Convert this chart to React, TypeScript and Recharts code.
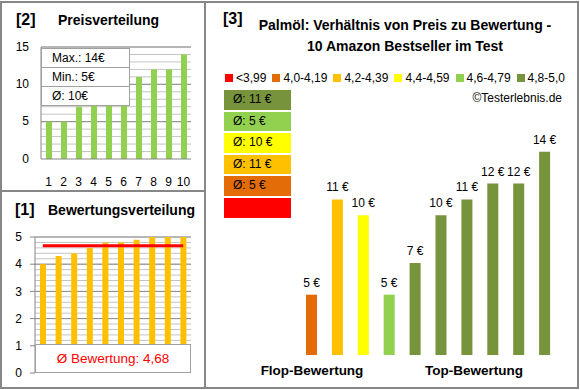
import React from "react";
import {
  ComposedChart,
  BarChart,
  Bar,
  Line,
  XAxis,
  YAxis,
  CartesianGrid,
  Cell,
  LabelList,
} from "recharts";

const FONT = '"Liberation Sans", Arial, sans-serif';
const FRAME = "#878787";
const GRID_MAJOR = "#8c8c8c";
const GRID_MINOR = "#c4c4c4";

// [2] Preisverteilung: prices sorted ascending
const ranks = ["1", "2", "3", "4", "5", "6", "7", "8", "9", "10"];
const pricesAsc = [5, 5, 7, 10, 10, 11, 11, 12, 12, 14];
const priceTicks = [0, 5, 10, 15];

// [1] Bewertungsverteilung: ratings sorted ascending
const ratingsAsc = [4.0, 4.3, 4.4, 4.6, 4.8, 4.8, 4.9, 5.0, 5.0, 5.0];
const ratingTicks = [0, 1, 2, 3, 4, 5];

// [3] price of each product, ordered from flop to top rating
const pricesByRating = [5, 11, 10, 5, 7, 10, 11, 12, 12, 14];

const bandLabels = ["<3,99", "4,0-4,19", "4,2-4,39", "4,4-4,59", "4,6-4,79", "4,8-5,0"];
const bandLimits = [4.0, 4.2, 4.4, 4.6, 4.8]; // lower bounds of bands 1..5
const bandColors = ["#FF0000", "#E36C09", "#FFC000", "#FFFF00", "#92D050", "#77933C"];
const groupLabels = ["Flop-Bewertung", "Top-Bewertung"];

const bandOf = (r: number) => bandLimits.filter((l) => r >= l - 1e-9).length;

const priceData = ranks.map((rank, i) => ({ rank, price: pricesAsc[i] }));
const ratingMean = ratingsAsc.reduce((a, b) => a + b, 0) / ratingsAsc.length;
const ratingData = ranks.map((rank, i) => ({ rank, rating: ratingsAsc[i], avg: ratingMean }));
const ratioData = ranks.map((rank, i) => ({
  rank,
  price: pricesByRating[i],
  band: bandOf(ratingsAsc[i]),
}));

const priceSummary = [
  `Max.: ${Math.max(...pricesAsc)}€`,
  `Min.: ${Math.min(...pricesAsc)}€`,
  `Ø: ${Math.round(pricesAsc.reduce((a, b) => a + b, 0) / pricesAsc.length)}€`,
];

const bandAverages = bandColors.map((_, b) => {
  const p = ratioData.filter((d) => d.band === b).map((d) => d.price);
  return p.length ? `Ø: ${Math.round(p.reduce((a, c) => a + c, 0) / p.length)} €` : "";
});

const priceGridMinor = Array.from({ length: 15 }, (_, i) => i + 1);
const ratingGridMinor = Array.from({ length: 25 }, (_, i) => +(0.2 * (i + 1)).toFixed(1));

// plot box of the price chart (panel [2])
const PRICE_TOP = 47;
const PRICE_H = 112;
const PRICE_MAX = 15;

const gridGen =
  (values: number[], domain: [number, number]) =>
  ({ yAxis, offset }: any) =>
    values.map((v) =>
      yAxis && typeof yAxis.scale === "function"
        ? yAxis.scale(v)
        : offset.top + (offset.height * (domain[1] - v)) / (domain[1] - domain[0])
    );

type TxtProps = {
  x: number;
  y: number;
  size?: number;
  bold?: boolean;
  color?: string;
  align?: "left" | "center" | "right";
  children: React.ReactNode;
};

function Txt({ x, y, size = 12, bold = false, color = "#000", align = "left", children }: TxtProps) {
  const lh = Math.round(size * 1.4);
  const style: React.CSSProperties = {
    position: "absolute",
    top: y - lh / 2,
    lineHeight: `${lh}px`,
    fontSize: size,
    fontWeight: bold ? 700 : 400,
    color,
    whiteSpace: "nowrap",
    fontFamily: FONT,
    zIndex: 5,
  };
  if (align === "left") style.left = x;
  if (align === "center") {
    style.left = x;
    style.transform = "translateX(-50%)";
  }
  if (align === "right") style.right = 580 - x;
  return <div style={style}>{children}</div>;
}

const tickStyle = { fontSize: 12, fill: "#000", fontFamily: FONT };

// price label above each bar in [3]
const PriceLabel = (props: any) => {
  const { x, y, width, value } = props;
  return (
    <text
      x={Number(x) + Number(width) / 2}
      y={Number(y) - 8}
      textAnchor="middle"
      fontSize={12}
      fontFamily={FONT}
      fill="#000"
    >
      {`${value} €`}
    </text>
  );
};

export default function App() {
  return (
    <div
      style={{
        position: "absolute",
        left: 0,
        top: 0,
        width: 580,
        height: 390,
        background: "#fff",
        fontFamily: FONT,
        overflow: "hidden",
      }}
    >
      {/* frame */}
      <div
        style={{
          position: "absolute",
          left: 0,
          top: 1,
          width: 579,
          height: 388,
          border: `2px solid ${FRAME}`,
          boxSizing: "border-box",
        }}
      />
      <div style={{ position: "absolute", left: 204, top: 1, width: 2, height: 388, background: FRAME }} />
      <div style={{ position: "absolute", left: 0, top: 190, width: 205, height: 2, background: FRAME }} />

      {/* [2] Preisverteilung */}
      <div style={{ position: "absolute", left: 0, top: 0 }}>
        <ComposedChart
          width={200}
          height={190}
          data={priceData}
          margin={{ top: PRICE_TOP, right: 9, bottom: 1, left: 0 }}
        >
          <CartesianGrid
            vertical={false}
            stroke={GRID_MINOR}
            horizontalCoordinatesGenerator={gridGen(priceGridMinor, [0, PRICE_MAX])}
          />
          <CartesianGrid
            vertical={false}
            stroke={GRID_MAJOR}
            horizontalCoordinatesGenerator={gridGen(priceGridMinor.filter((v) => v % 5 === 0), [0, PRICE_MAX])}
          />
          <XAxis
            dataKey="rank"
            height={30}
            axisLine={{ stroke: FRAME }}
            tickLine={false}
            tickMargin={12}
            tick={tickStyle}
            interval={0}
          />
          <YAxis
            width={41}
            domain={[0, PRICE_MAX]}
            ticks={priceTicks}
            axisLine={{ stroke: FRAME }}
            tickLine={false}
            tick={false}
          />
          <Bar dataKey="price" fill="#92D050" barSize={6} isAnimationActive={false} />
        </ComposedChart>
      </div>
      {priceTicks.map((v) => (
        <Txt key={v} x={29} y={PRICE_TOP + (PRICE_H * (PRICE_MAX - v)) / PRICE_MAX} align="right">
          {v}
        </Txt>
      ))}
      <Txt x={16} y={20} size={16} bold>[2]</Txt>
      <Txt x={58} y={20} size={14} bold>Preisverteilung</Txt>
      <div
        style={{
          position: "absolute",
          left: 41,
          top: 48,
          width: 89,
          background: "#fff",
          border: "1px solid #a0a0a0",
          boxSizing: "border-box",
        }}
      >
        {priceSummary.map((t, i) => (
          <div
            key={t}
            style={{
              height: 18,
              lineHeight: "18px",
              paddingLeft: 10,
              fontSize: 12,
              borderTop: i ? "1px solid #a0a0a0" : "none",
            }}
          >
            {t}
          </div>
        ))}
      </div>

      {/* [1] Bewertungsverteilung */}
      <Txt x={15} y={210} size={16} bold>[1]</Txt>
      <Txt x={48} y={210} size={14} bold>Bewertungsverteilung</Txt>
      <div style={{ position: "absolute", left: 0, top: 190 }}>
        <ComposedChart width={200} height={200} data={ratingData} margin={{ top: 47, right: 9, bottom: 17, left: 0 }}>
          <CartesianGrid
            vertical={false}
            stroke={GRID_MINOR}
            horizontalCoordinatesGenerator={gridGen(ratingGridMinor, [0, 5])}
          />
          <CartesianGrid
            vertical={false}
            stroke={GRID_MAJOR}
            horizontalCoordinatesGenerator={gridGen(ratingGridMinor.filter((v) => Number.isInteger(v)), [0, 5])}
          />
          <XAxis dataKey="rank" hide />
          <YAxis
            width={35}
            domain={[0, 5]}
            ticks={ratingTicks}
            interval={0}
            axisLine={{ stroke: FRAME }}
            tickLine={{ stroke: FRAME }}
            tickSize={5}
            tickMargin={8}
            tick={tickStyle}
          />
          <Bar dataKey="rating" fill="#FFC000" barSize={6} isAnimationActive={false} />
          <Line
            dataKey="avg"
            type="linear"
            stroke="#FF0000"
            strokeWidth={3}
            dot={false}
            activeDot={false}
            isAnimationActive={false}
          />
        </ComposedChart>
      </div>
      <div
        style={{
          position: "absolute",
          left: 35,
          top: 344,
          width: 156,
          height: 29,
          background: "#fff",
          border: "1px solid #a0a0a0",
          boxSizing: "border-box",
          textAlign: "center",
          lineHeight: "27px",
          fontSize: 13.5,
          color: "#FF0000",
        }}
      >
        Ø Bewertung: {ratingMean.toFixed(2).replace(".", ",")}
      </div>

      {/* [3] Verhältnis von Preis zu Bewertung */}
      <Txt x={223} y={19} size={16} bold>[3]</Txt>
      <Txt x={405} y={25} size={14} bold align="center">
        Palmöl: Verhältnis von Preis zu Bewertung -
      </Txt>
      <Txt x={405} y={46} size={14} bold align="center">
        10 Amazon Bestseller im Test
      </Txt>
      <div
        style={{
          position: "absolute",
          left: 225,
          top: 70,
          height: 15,
          display: "flex",
          alignItems: "center",
          gap: 6,
          fontSize: 12,
          whiteSpace: "nowrap",
        }}
      >
        {bandLabels.map((l, i) => (
          <div key={l} style={{ display: "flex", alignItems: "center", gap: 3 }}>
            <div style={{ width: 8, height: 8, background: bandColors[i] }} />
            <span>{l}</span>
          </div>
        ))}
      </div>
      <Txt x={562} y={98} size={12} align="right">©Testerlebnis.de</Txt>

      <div
        style={{
          position: "absolute",
          left: 224,
          top: 90,
          width: 67,
          display: "flex",
          flexDirection: "column",
          gap: 2,
        }}
      >
        {bandColors
          .map((c, i) => ({ c, t: bandAverages[i] }))
          .reverse()
          .map(({ c, t }) => (
            <div
              key={c}
              style={{
                height: 19.6,
                lineHeight: "19.6px",
                background: c,
                paddingLeft: 9,
                fontSize: 12,
              }}
            >
              {t}
            </div>
          ))}
      </div>

      <div style={{ position: "absolute", left: 200, top: 0 }}>
        <BarChart width={380} height={390} data={ratioData} margin={{ top: 128, right: 22, bottom: 35, left: 99 }}>
          <XAxis dataKey="rank" hide />
          <YAxis hide domain={[1.2, 15.5]} allowDataOverflow />
          <Bar dataKey="price" barSize={11} isAnimationActive={false}>
            {ratioData.map((d) => (
              <Cell key={d.rank} fill={bandColors[d.band]} />
            ))}
            <LabelList dataKey="price" content={PriceLabel} />
          </Bar>
        </BarChart>
      </div>
      <Txt x={312} y={370} size={13.5} bold align="center">{groupLabels[0]}</Txt>
      <Txt x={474} y={370} size={13.5} bold align="center">{groupLabels[1]}</Txt>
    </div>
  );
}
